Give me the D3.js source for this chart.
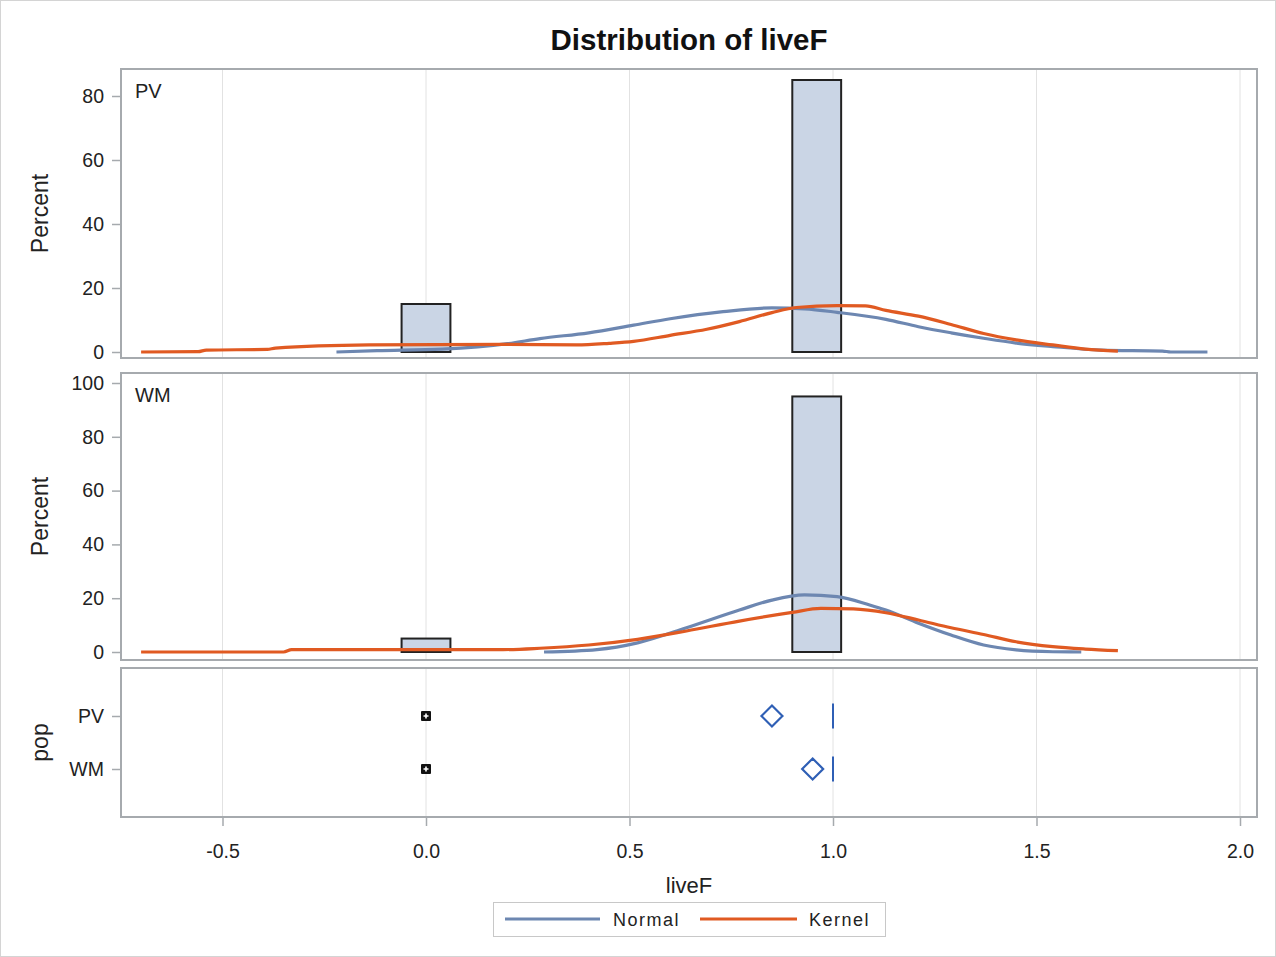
<!DOCTYPE html>
<html>
<head>
<meta charset="utf-8">
<script src="https://cdn.jsdelivr.net/npm/d3@7"></script>
<style>
  html, body { margin: 0; padding: 0; background: #fff; }
  svg { display: block; font-family: "Liberation Sans", Arial, sans-serif; }
</style>
</head>
<body>
<svg id="chart" width="1276" height="957"></svg>
<script>
// Histogram bins (midpoints) and percent per bin for each population
const binMidpoints = [0, 0.12, 0.24, 0.36, 0.48, 0.60, 0.72, 0.84, 0.96];
const binWidth = 0.12;
const pvPercent = [15, 0, 0, 0, 0, 0, 0, 0, 85];
const wmPercent = [5, 0, 0, 0, 0, 0, 0, 0, 95];

// Fitted normal density (scaled to percent) for PV
const pvNormal = [
  [-0.22, 0], [-0.12, 0.4], [0.04, 0.9], [0.20, 2.6], [0.28, 4.2], [0.40, 6.0],
  [0.51, 8.4], [0.60, 10.4], [0.73, 12.6], [0.85, 13.8], [0.93, 13.5],
  [1.01, 12.4], [1.13, 10.2], [1.21, 7.9], [1.29, 6.0], [1.37, 4.3],
  [1.45, 2.8], [1.54, 1.7], [1.66, 0.6], [1.81, 0.3], [1.83, 0], [1.92, 0]
];
// Kernel density estimate for PV
const pvKernel = [
  [-0.70, 0], [-0.56, 0.1], [-0.54, 0.6], [-0.39, 0.8], [-0.37, 1.2],
  [-0.14, 2.2], [0.19, 2.4], [0.37, 2.2], [0.45, 2.7], [0.51, 3.3],
  [0.60, 5.2], [0.69, 7.1], [0.77, 9.5], [0.85, 12.3], [0.91, 13.9],
  [1.01, 14.5], [1.08, 14.4], [1.13, 13.0], [1.21, 11.2], [1.29, 8.6],
  [1.37, 5.8], [1.45, 3.8], [1.54, 2.2], [1.62, 0.9], [1.70, 0.3]
];
// Fitted normal density (scaled to percent) for WM
const wmNormal = [
  [0.29, 0], [0.42, 0.9], [0.52, 3.4], [0.64, 9.0], [0.77, 15.6],
  [0.85, 19.3], [0.93, 21.2], [1.01, 20.6], [1.09, 17.5], [1.13, 15.6],
  [1.21, 10.7], [1.29, 6.3], [1.37, 2.6], [1.45, 0.8], [1.54, 0.1], [1.61, 0]
];
// Kernel density estimate for WM
const wmKernel = [
  [-0.70, 0], [-0.35, 0], [-0.33, 0.9], [0.19, 0.9], [0.28, 1.4],
  [0.40, 2.6], [0.52, 4.7], [0.64, 7.8], [0.77, 11.5], [0.90, 14.7],
  [0.97, 16.2], [1.05, 16.0], [1.13, 14.6], [1.21, 11.9], [1.29, 9.0],
  [1.37, 6.5], [1.45, 3.8], [1.54, 2.0], [1.62, 1.1], [1.70, 0.5]
];

// Box plot summary per population
const pops = ["PV", "WM"];
const popMeans = [0.85, 0.95];
const popQ1 = [1, 1];
const popMedian = [1, 1];
const popQ3 = [1, 1];
const popOutliers = [[0], [0]];

// Axis ticks
const xTicks = [-0.5, 0, 0.5, 1.0, 1.5, 2.0];
const pvTicks = [0, 20, 40, 60, 80];
const wmTicks = [0, 20, 40, 60, 80, 100];

const legendItems = ["Normal", "Kernel"];

// ---- styling ----
const C = {
  normal: "#6d87b1",
  kernel: "#e05a22",
  barFill: "#cad5e5",
  barStroke: "#222",
  frame: "#a6aaae",
  grid: "#e2e2e2",
  text: "#222",
  box: "#2f5fb5"
};

const svg = d3.select("#chart");

// outer border
svg.append("rect").attr("x", 0.5).attr("y", 0.5).attr("width", 1275).attr("height", 956)
  .attr("fill", "#fff").attr("stroke", "#d4d4d4");

const L = 121, R = 1257;
const panels = [
  { top: 69, bottom: 358, label: "PV", percent: pvPercent, normal: pvNormal, kernel: pvKernel,
    ticks: pvTicks, y0: 352, yTop: 96, vTop: 80 },
  { top: 373, bottom: 660, label: "WM", percent: wmPercent, normal: wmNormal, kernel: wmKernel,
    ticks: wmTicks, y0: 652, yTop: 383, vTop: 100 }
];
const box = { top: 668, bottom: 817 };

const x = d3.scaleLinear().domain([0, 2]).range([426, 1240]);

// title
svg.append("text").attr("x", 689).attr("y", 50).attr("text-anchor", "middle")
  .attr("font-size", 29.5).attr("font-weight", "bold").attr("fill", "#111")
  .text("Distribution of liveF");

function grid(g, top, bottom) {
  g.selectAll("line.grid").data(xTicks).join("line").attr("class", "grid")
    .attr("x1", d => x(d)).attr("x2", d => x(d))
    .attr("y1", top).attr("y2", bottom)
    .attr("stroke", C.grid).attr("stroke-width", 1);
}

function frame(top, bottom) {
  svg.append("rect").attr("x", L).attr("y", top).attr("width", R - L).attr("height", bottom - top)
    .attr("fill", "none").attr("stroke", C.frame).attr("stroke-width", 2);
}

function styleAxis(g) {
  g.select(".domain").remove();
  g.selectAll(".tick line").attr("stroke", C.frame).attr("stroke-width", 1.5);
  g.selectAll(".tick text").attr("fill", C.text).attr("font-size", 19.5)
    .attr("font-family", "'Liberation Sans', Arial, sans-serif");
}

const line = d3.line().curve(d3.curveMonotoneX);

panels.forEach(p => {
  const y = d3.scaleLinear().domain([0, p.vTop]).range([p.y0, p.yTop]);
  const g = svg.append("g");
  g.append("rect").attr("x", L).attr("y", p.top).attr("width", R - L).attr("height", p.bottom - p.top)
    .attr("fill", "#fff");
  grid(g, p.top, p.bottom);

  // histogram bars
  g.selectAll("rect.bar").data(binMidpoints.map((m, i) => ({ m, v: p.percent[i] })))
    .join("rect").attr("class", "bar")
    .attr("x", d => x(d.m - binWidth / 2))
    .attr("width", d => x(d.m + binWidth / 2) - x(d.m - binWidth / 2))
    .attr("y", d => y(d.v))
    .attr("height", d => y(0) - y(d.v))
    .attr("fill", C.barFill).attr("stroke", C.barStroke).attr("stroke-width", 2);

  // density curves
  line.x(d => x(d[0])).y(d => y(d[1]));
  g.append("path").attr("d", line(p.normal)).attr("fill", "none")
    .attr("stroke", C.normal).attr("stroke-width", 3.2);
  g.append("path").attr("d", line(p.kernel)).attr("fill", "none")
    .attr("stroke", C.kernel).attr("stroke-width", 3.2);

  // panel label
  g.append("text").attr("x", 135).attr("y", p.top + 29).attr("font-size", 20)
    .attr("fill", C.text).text(p.label);

  frame(p.top, p.bottom);

  const ax = svg.append("g").attr("transform", `translate(${L},0)`)
    .call(d3.axisLeft(y).tickValues(p.ticks).tickSize(9).tickPadding(8));
  styleAxis(ax);

  svg.append("text")
    .attr("transform", `translate(48,${(p.top + p.bottom) / 2}) rotate(-90)`)
    .attr("text-anchor", "middle").attr("font-size", 23).attr("fill", C.text)
    .text("Percent");
});

// ---- box plot panel ----
const yb = d3.scalePoint().domain(pops).range([716, 769]);
const gb = svg.append("g");
gb.append("rect").attr("x", L).attr("y", box.top).attr("width", R - L).attr("height", box.bottom - box.top)
  .attr("fill", "#fff");
grid(gb, box.top, box.bottom);

pops.forEach((pop, i) => {
  const cy = yb(pop);
  // collapsed box: Q1, median and Q3 coincide, so it draws as one line
  gb.append("rect").attr("x", x(popQ1[i])).attr("y", cy - 12.5)
    .attr("width", x(popQ3[i]) - x(popQ1[i])).attr("height", 25)
    .attr("fill", "none").attr("stroke", C.box).attr("stroke-width", 2);
  gb.append("line").attr("x1", x(popMedian[i])).attr("x2", x(popMedian[i]))
    .attr("y1", cy - 12.5).attr("y2", cy + 12.5)
    .attr("stroke", C.box).attr("stroke-width", 2);
  // mean diamond
  const mx = x(popMeans[i]);
  gb.append("path")
    .attr("d", `M${mx},${cy - 10.5}L${mx + 10.5},${cy}L${mx},${cy + 10.5}L${mx - 10.5},${cy}Z`)
    .attr("fill", "none").attr("stroke", C.box).attr("stroke-width", 2.2);
  // outliers
  popOutliers[i].forEach(o => {
    const ox = x(o);
    gb.append("rect").attr("x", ox - 5).attr("y", cy - 5).attr("width", 10).attr("height", 10)
      .attr("fill", "#111").attr("rx", 1);
    gb.append("path").attr("d", `M${ox - 2.5},${cy}H${ox + 2.5}M${ox},${cy - 2.5}V${cy + 2.5}`)
      .attr("stroke", "#fff").attr("stroke-width", 1.6);
  });
});
frame(box.top, box.bottom);

const axb = svg.append("g").attr("transform", `translate(${L},0)`)
  .call(d3.axisLeft(yb).tickSize(9).tickPadding(8));
styleAxis(axb);
svg.append("text")
  .attr("transform", `translate(48,${(box.top + box.bottom) / 2}) rotate(-90)`)
  .attr("text-anchor", "middle").attr("font-size", 23).attr("fill", C.text).text("pop");

// x axis
const axx = svg.append("g").attr("transform", `translate(0,${box.bottom})`)
  .call(d3.axisBottom(x).tickValues(xTicks).tickFormat(d => d.toFixed(1)).tickSize(9).tickPadding(18));
styleAxis(axx);
svg.append("text").attr("x", 689).attr("y", 893).attr("text-anchor", "middle")
  .attr("font-size", 22).attr("fill", C.text).text("liveF");

// legend
const lg = svg.append("g");
lg.append("rect").attr("x", 493.5).attr("y", 902.5).attr("width", 392).attr("height", 34)
  .attr("fill", "#fff").attr("stroke", "#c8c8c8");
const legendPos = [{ x1: 505, x2: 600, tx: 613, color: C.normal }, { x1: 700, x2: 797, tx: 809, color: C.kernel }];
legendItems.forEach((name, i) => {
  const lp = legendPos[i];
  lg.append("line").attr("x1", lp.x1).attr("x2", lp.x2).attr("y1", 919).attr("y2", 919)
    .attr("stroke", lp.color).attr("stroke-width", 3.2);
  lg.append("text").attr("x", lp.tx).attr("y", 926).attr("font-size", 18)
    .attr("letter-spacing", 1.5).attr("fill", C.text).text(name);
});
</script>
</body>
</html>
